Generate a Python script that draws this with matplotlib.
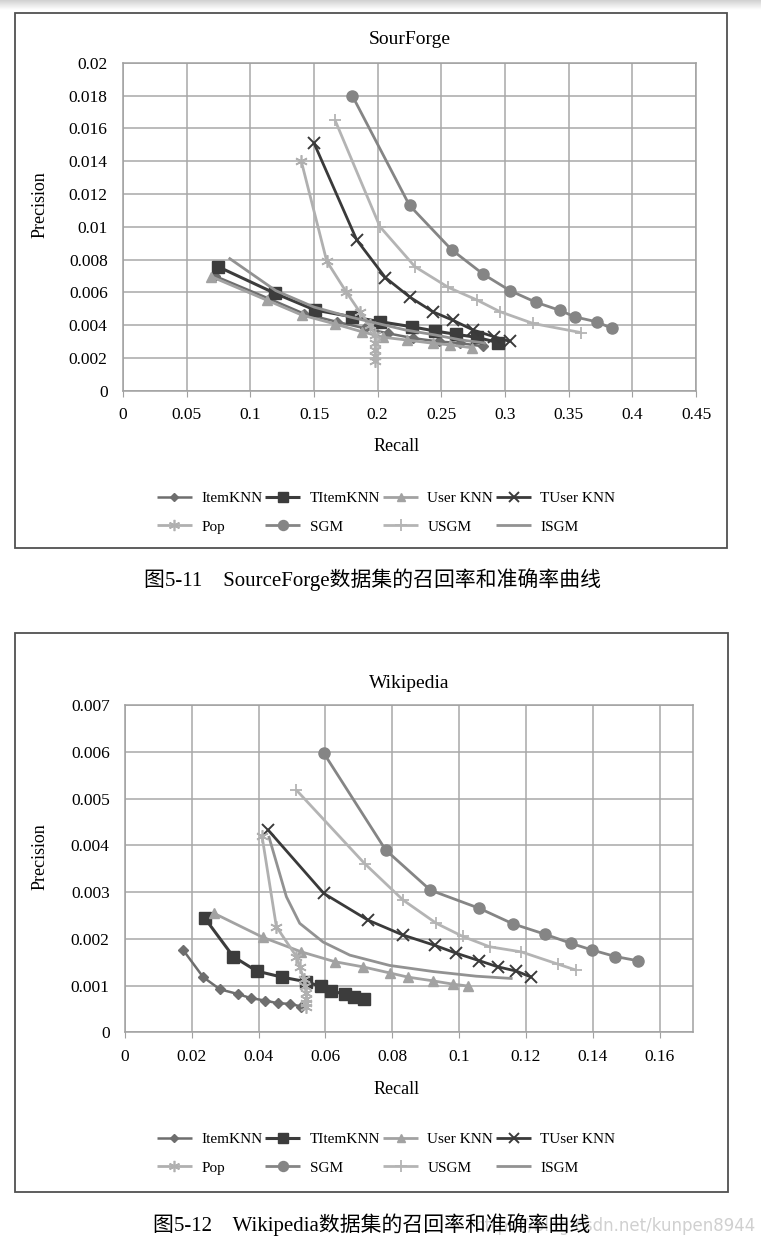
import numpy as np
import matplotlib
matplotlib.use("Agg")
import matplotlib.pyplot as plt
from matplotlib.patches import Rectangle

W, H = 761, 1255

# ---------------- SourceForge data ----------------
sf_itemknn_x = [0.072, 0.115, 0.142, 0.168, 0.19, 0.208, 0.228, 0.248, 0.265, 0.283]
sf_itemknn_y = [0.0070, 0.0056, 0.0047, 0.0042, 0.0038, 0.0035, 0.0032, 0.0030, 0.0029, 0.0027]
sf_titemknn_x = [0.0747, 0.1193, 0.1507, 0.1796, 0.2018, 0.2267, 0.245, 0.2615, 0.278, 0.2948]
sf_titemknn_y = [0.00756, 0.00594, 0.00492, 0.00451, 0.00421, 0.0039, 0.00364, 0.00344, 0.00325, 0.00293]
sf_userknn_x = [0.0695, 0.1127, 0.1402, 0.1664, 0.1874, 0.2044, 0.2228, 0.2437, 0.257, 0.274]
sf_userknn_y = [0.00695, 0.00553, 0.00462, 0.00407, 0.0036, 0.00326, 0.00309, 0.00289, 0.00279, 0.00262]
sf_tuser_x = [0.150, 0.1835, 0.206, 0.2254, 0.2437, 0.259, 0.275, 0.291, 0.304]
sf_tuser_y = [0.0151, 0.0092, 0.0069, 0.0057, 0.0048, 0.0043, 0.0037, 0.0033, 0.0030]
sf_pop_x = [0.140, 0.160, 0.1755, 0.186, 0.194, 0.198, 0.198, 0.198, 0.198, 0.198]
sf_pop_y = [0.0140, 0.0079, 0.0060, 0.0048, 0.0040, 0.0034, 0.0029, 0.0025, 0.0021, 0.0018]
sf_sgm_x = [0.180, 0.225, 0.258, 0.283, 0.304, 0.324, 0.343, 0.355, 0.372, 0.384]
sf_sgm_y = [0.0180, 0.0113, 0.0086, 0.0071, 0.0061, 0.0054, 0.0049, 0.0045, 0.0042, 0.0038]
sf_usgm_x = [0.1665, 0.2018, 0.2293, 0.2555, 0.278, 0.296, 0.322, 0.360]
sf_usgm_y = [0.0165, 0.0100, 0.00756, 0.0063, 0.00553, 0.00482, 0.0041, 0.00354]
sf_isgm_x = [0.083, 0.12, 0.15, 0.178, 0.2, 0.222, 0.245, 0.265, 0.285]
sf_isgm_y = [0.0081, 0.0061, 0.0051, 0.0045, 0.0041, 0.0037, 0.0034, 0.0031, 0.0029]

# ---------------- Wikipedia data ----------------
wk_itemknn_x = [0.0174, 0.0234, 0.0284, 0.0337, 0.0377, 0.0419, 0.0458, 0.0493, 0.0528]
wk_itemknn_y = [0.00176, 0.00118, 0.00092, 0.00082, 0.00073, 0.00068, 0.00062, 0.00061, 0.00055]
wk_titemknn_x = [0.0239, 0.0324, 0.0394, 0.047, 0.0543, 0.0586, 0.0616, 0.0658, 0.0686, 0.0716]
wk_titemknn_y = [0.00244, 0.00162, 0.00131, 0.00118, 0.00108, 0.00098, 0.00088, 0.00082, 0.00076, 0.00071]
wk_userknn_x = [0.0265, 0.0413, 0.0528, 0.0628, 0.0712, 0.0792, 0.0847, 0.0922, 0.0981, 0.1026]
wk_userknn_y = [0.00255, 0.00203, 0.00172, 0.00151, 0.0014, 0.00127, 0.00118, 0.0011, 0.00103, 0.00099]
wk_tuser_x = [0.0428, 0.0595, 0.0727, 0.0832, 0.0927, 0.0992, 0.1061, 0.1116, 0.1171, 0.1216]
wk_tuser_y = [0.00433, 0.00297, 0.0024, 0.00208, 0.00186, 0.00169, 0.00153, 0.0014, 0.00131, 0.00118]
wk_pop_x = [0.041, 0.0453, 0.0513, 0.0523, 0.0535, 0.054, 0.0543, 0.0543, 0.0543, 0.0543]
wk_pop_y = [0.0042, 0.00226, 0.00162, 0.0014, 0.00115, 0.00098, 0.00085, 0.00072, 0.00062, 0.00055]
wk_sgm_x = [0.0595, 0.078, 0.0914, 0.1061, 0.1161, 0.1256, 0.1336, 0.1398, 0.1468, 0.1535]
wk_sgm_y = [0.00597, 0.0039, 0.00304, 0.00265, 0.00232, 0.0021, 0.0019, 0.00176, 0.00162, 0.00153]
wk_usgm_x = [0.0513, 0.0717, 0.0832, 0.0932, 0.1011, 0.1091, 0.1186, 0.1295, 0.135]
wk_usgm_y = [0.00518, 0.00361, 0.00283, 0.00233, 0.00205, 0.00183, 0.00172, 0.00146, 0.00133]
wk_isgm_x = [0.043, 0.0483, 0.0523, 0.0593, 0.0673, 0.0792, 0.0922, 0.1051, 0.116]
wk_isgm_y = [0.0042, 0.0029, 0.00233, 0.00193, 0.00165, 0.00143, 0.0013, 0.0012, 0.00115]

labels = ["ItemKNN", "TItemKNN", "User KNN", "TUser KNN", "Pop", "SGM", "USGM", "ISGM"]

sf_series = [(sf_itemknn_x, sf_itemknn_y), (sf_titemknn_x, sf_titemknn_y),
             (sf_userknn_x, sf_userknn_y), (sf_tuser_x, sf_tuser_y),
             (sf_pop_x, sf_pop_y), (sf_sgm_x, sf_sgm_y),
             (sf_usgm_x, sf_usgm_y), (sf_isgm_x, sf_isgm_y)]
wk_series = [(wk_itemknn_x, wk_itemknn_y), (wk_titemknn_x, wk_titemknn_y),
             (wk_userknn_x, wk_userknn_y), (wk_tuser_x, wk_tuser_y),
             (wk_pop_x, wk_pop_y), (wk_sgm_x, wk_sgm_y),
             (wk_usgm_x, wk_usgm_y), (wk_isgm_x, wk_isgm_y)]

sf_xticks = [0, 0.05, 0.1, 0.15, 0.2, 0.25, 0.3, 0.35, 0.4, 0.45]
sf_yticks = [0, 0.002, 0.004, 0.006, 0.008, 0.01, 0.012, 0.014, 0.016, 0.018, 0.02]
wk_xticks = [0, 0.02, 0.04, 0.06, 0.08, 0.1, 0.12, 0.14, 0.16]
wk_yticks = [0, 0.001, 0.002, 0.003, 0.004, 0.005, 0.006, 0.007]

styles = [
    dict(color="#6e6e6e", marker="D", ms=5, lw=1.8),
    dict(color="#3c3c3c", marker="s", ms=8, lw=2.2),
    dict(color="#a2a2a2", marker="^", ms=7, lw=2.0),
    dict(color="#3a3a3a", marker="x", ms=8, lw=2.0, mew=1.4),
    dict(color="#b0b0b0", marker=(6, 2, 0), ms=9, lw=2.0, mew=1.2),
    dict(color="#858585", marker="o", ms=8, lw=2.0),
    dict(color="#b4b4b4", marker="+", ms=9, lw=2.0, mew=1.3),
    dict(color="#929292", marker=None, lw=2.0),
]

serif = ["Liberation Serif", "DejaVu Serif"]
cjk = ["Liberation Serif", "Noto Sans CJK SC", "DejaVu Sans"]


def fx(px):
    return px / W


def fy(py):
    return 1 - py / H


fig = plt.figure(figsize=(W / 100, H / 100), dpi=100)
fig.patch.set_facecolor("white")

# faint shading at very top of the page
grad = fig.add_axes([0, fy(10), 1, 10 / H])
grad.imshow(np.linspace(0.82, 1.0, 20).reshape(-1, 1), cmap="gray", vmin=0, vmax=1,
            aspect="auto", extent=[0, 1, 0, 1])
grad.axis("off")


def draw_panel(rect, series, xticks, yticks, xlim, ylim, title, title_y, xlab_y, ylab_y,
               leg_y, box, caption, cap_y):
    # outer box
    fig.patches.append(Rectangle((fx(box[0]), fy(box[3])), fx(box[2] - box[0]),
                                 (box[3] - box[1]) / H, transform=fig.transFigure,
                                 fill=False, edgecolor="#505050", lw=1.3))
    ax = fig.add_axes(rect)
    handles = []
    for (xs, ys), st, lab in zip(series, styles, labels):
        h, = ax.plot(xs, ys, color=st["color"], marker=st.get("marker"),
                     ms=st.get("ms", 0), lw=st["lw"], mew=st.get("mew", 1.0),
                     label=lab, solid_capstyle="butt")
        handles.append(h)
    ax.set_xlim(*xlim)
    ax.set_ylim(*ylim)
    ax.set_xticks(xticks)
    ax.set_yticks(yticks)
    ax.set_xticklabels(["%g" % v for v in xticks], fontfamily=serif, fontsize=12.5)
    ax.set_yticklabels(["%g" % v for v in yticks], fontfamily=serif, fontsize=12.5)
    ax.grid(True, color="#a8a8a8", lw=1.1)
    ax.set_axisbelow(True)
    for s in ax.spines.values():
        s.set_color("#a0a0a0")
        s.set_linewidth(1.1)
    ax.tick_params(axis="y", length=0, pad=11)
    ax.tick_params(axis="x", length=4, color="#a0a0a0", pad=8, direction="out")
    cx = rect[0] + rect[2] / 2
    fig.text(cx, fy(title_y), title, ha="center", va="center", fontfamily=serif, fontsize=14)
    fig.text(fx(397), fy(xlab_y), "Recall", ha="center", va="center", fontfamily=serif,
             fontsize=13)
    fig.text(fx(40), fy(ylab_y), "Precision", ha="center", va="center", rotation=90,
             fontfamily=serif, fontsize=13)
    order = [0, 4, 1, 5, 2, 6, 3, 7]
    fig.legend([handles[i] for i in order], [labels[i] for i in order], ncol=4,
               loc="upper left", bbox_to_anchor=(fx(143), fy(leg_y)),
               frameon=False, prop={"family": serif, "size": 11},
               handlelength=2.3, handletextpad=0.6, columnspacing=0.2,
               labelspacing=0.95, markerscale=0.9)
    fig.text(fx(372), fy(cap_y), caption, ha="center", va="center", fontfamily=cjk,
             fontsize=15)


draw_panel([fx(123), fy(390.7), (696 - 123) / W, 328 / H], sf_series, sf_xticks, sf_yticks,
           (0, 0.45), (0, 0.02), "SourForge", 40, 447, 205, 478, (15, 13, 727, 548),
           "图5-11    SourceForge数据集的召回率和准确率曲线", 580)
draw_panel([fx(125), fy(1032.3), (693 - 125) / W, 327.3 / H], wk_series, wk_xticks, wk_yticks,
           (0, 0.17), (0, 0.007), "Wikipedia", 683, 1090, 857, 1119, (15, 633, 728, 1192),
           "图5-12    Wikipedia数据集的召回率和准确率曲线", 1225)

# faint watermark, overlapping the caption as in the source page
fig.text(fx(756), fy(1226), "https://blog.csdn.net/kunpen8944", ha="right", va="center",
         color="#d0d0d0", fontsize=12, fontfamily=["DejaVu Sans"], zorder=0)

fig.savefig("out.png", dpi=100)
